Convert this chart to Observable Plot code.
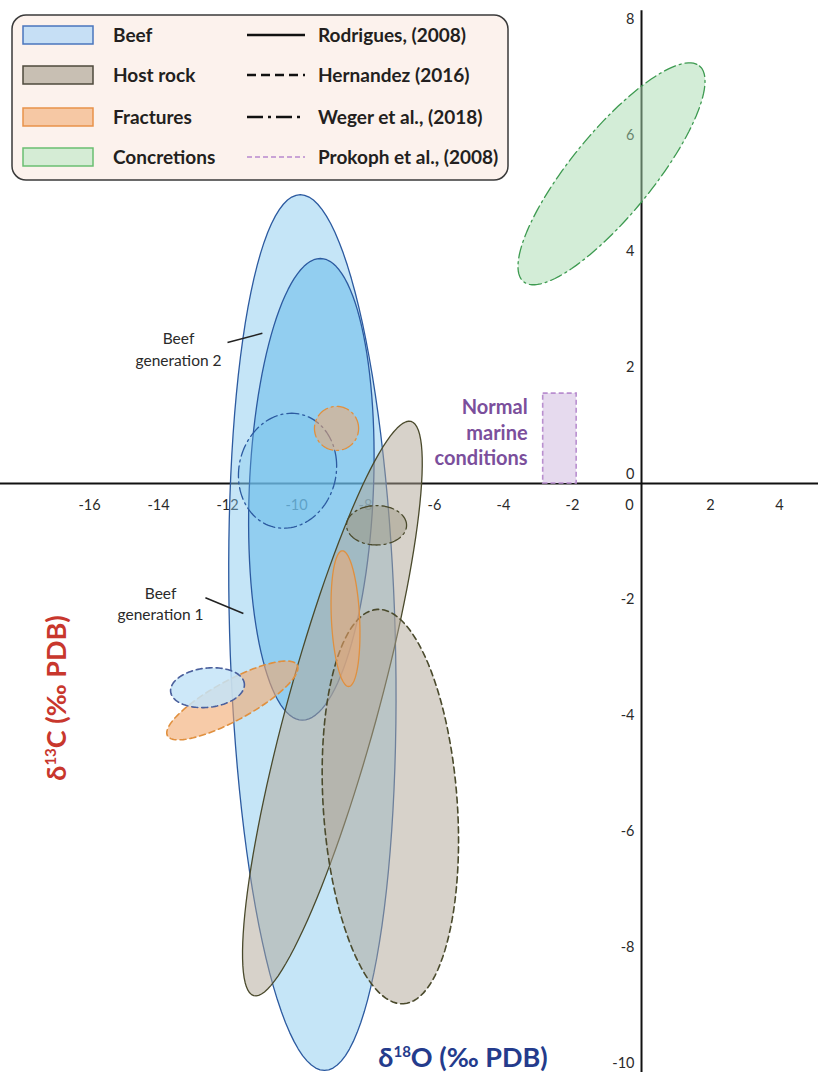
<!DOCTYPE html>
<html><head><meta charset="utf-8">
<script src="https://cdn.jsdelivr.net/npm/d3@7"></script>
<script src="https://cdn.jsdelivr.net/npm/@observablehq/plot@0.6"></script>
<style>
body{margin:0;background:#fff;}
#wrap{position:relative;width:818px;height:1072px;overflow:hidden;font-family:Lato,"Noto Sans",sans-serif;}
#wrap svg{display:block}
#legend{position:absolute;left:0;top:0;}
</style></head><body><div id="wrap"></div>
<script>
// ---- data (δ18O = x, δ13C = y, ‰ PDB) ----
const shapeNames  = ["Beef gen 1","Beef gen 2","Beef Weger","Beef Hernandez","Host rock Rodrigues","Host rock Hernandez","Host rock Weger","Fractures Rodrigues","Fractures Hernandez","Fractures Weger","Concretions Weger"];
const shapeGroup  = ["Beef","Beef","Beef","Beef","Host rock","Host rock","Host rock","Fractures","Fractures","Fractures","Concretions"];
const shapeSource = ["Rodrigues","Rodrigues","Weger","Hernandez","Rodrigues","Hernandez","Weger","Rodrigues","Hernandez","Weger","Weger"];
const centerX = [-9.54, -9.57, -10.26, -12.58, -8.96, -7.28, -7.68, -8.58, -11.86, -8.84, -0.87];
const centerY = [-2.57, -0.10,   0.22,  -3.52, -3.88, -5.57, -0.72, -2.33,  -3.74,  0.95,  5.34];
const majorDX = [-0.35,  0.26,   1.42,   1.07,  2.28,  0.38,  0.87,  0.09,   1.88,  0.64,  2.55];
const majorDY = [ 7.55,  3.98,   0.15,   0.05,  4.95, -3.40,  0.00, -1.17,   0.61,  0.00,  1.86];
const minorDX = [ 2.40,  1.80,  -0.10,   0.00,  1.26,  1.94,  0.00,  0.41,   0.28,  0.00,  0.92];
const minorDY = [ 0.00,  0.00,   0.98,   0.34, -0.21,  0.07,  0.34,  0.00,  -0.30,  0.38, -0.45];

const marineX = [-2.85, -1.88];   // Prokoph et al. (2008) normal marine δ18O range
const marineY = [0, 1.55];        // δ13C range

const xTicks = [-16,-14,-12,-10,-8,-6,-4,-2,0,2,4];
const yTicks = [8,6,4,2,0,-2,-4,-6,-8,-10];

const legendGroups  = ["Beef","Host rock","Fractures","Concretions"];
const legendSources = ["Rodrigues, (2008)","Hernandez (2016)","Weger et al., (2018)","Prokoph et al., (2008)"];

const annotations = ["Beef\ngeneration 2","Beef\ngeneration 1","Normal\nmarine\nconditions"];
const annotX = [-13.42, -13.94, -3.30];
const annotY = [2.34, -2.05, 0.90];
const pointerX1 = [-12.0, -12.64], pointerY1 = [2.43, -1.97];
const pointerX2 = [-10.99, -11.54], pointerY2 = [2.59, -2.24];

// ---- styles ----
const strokeOf = {Beef:"#2c5aa0","Host rock":"#4a4a2c",Fractures:"#e0903f",Concretions:"#3d9a50"};
const dashOf = {Rodrigues:null, Hernandez:"6,4", Weger:"12,4,2,4"};
const fillStyle = {
  "Beef gen 1":["#7fc6ee",0.45], "Beef gen 2":["#5fb8ea",0.5], "Beef Weger":["#6fc0ec",0.3],
  "Beef Hernandez":["#c4e4f8",0.85], "Host rock Rodrigues":["#b0a696",0.5], "Host rock Hernandez":["#b0a696",0.5],
  "Host rock Weger":["#9a947e",0.45], "Fractures Rodrigues":["#f2a86e",0.55], "Fractures Hernandez":["#f2a86e",0.6],
  "Fractures Weger":["#f2a86e",0.55], "Concretions Weger":["#a8dbb0",0.5]
};
const drawOrder = [0,1,4,5,7,2,9,6,8,3,10];

const angles = d3.range(0, 360, 3).map(d => d * Math.PI / 180);
function outline(i) {
  return angles.map(t => ({
    x: centerX[i] + majorDX[i] * Math.cos(t) + minorDX[i] * Math.sin(t),
    y: centerY[i] + majorDY[i] * Math.cos(t) + minorDY[i] * Math.sin(t)
  }));
}

const ellipseMarks = drawOrder.map(i => {
  const [f, fo] = fillStyle[shapeNames[i]];
  const isHern = shapeSource[i] === "Hernandez";
  let stroke = strokeOf[shapeGroup[i]];
  if (shapeNames[i] === "Beef Hernandez") stroke = "#4a5f9c";
  return Plot.line(outline(i), {
    x: "x", y: "y", curve: "linear-closed",
    fill: f, fillOpacity: fo, stroke,
    strokeWidth: isHern ? 1.6 : 1.3,
    strokeDasharray: dashOf[shapeSource[i]] || undefined
  });
});

const W = 818, H = 1072;
const chart = Plot.plot({
  width: W, height: H,
  marginTop: 0, marginRight: 0, marginBottom: 0, marginLeft: 0,
  x: {domain: [-18.58, 5.13], axis: null},
  y: {domain: [-10.155, 8.328], axis: null},
  style: {fontFamily: "Lato, 'Noto Sans', sans-serif", background: "#fff", overflow: "visible"},
  marks: [
    Plot.ruleY([0], {stroke: "#111", strokeWidth: 2}),
    Plot.ruleX([0], {y1: 8.15, y2: -10.155, stroke: "#111", strokeWidth: 2}),
    Plot.text(xTicks.filter(d => d !== 0), {x: d => d, y: 0, dy: 22, fontSize: 14.5, fill: "#2a2a2a"}),
    Plot.text([0], {x: d => d, y: 0, dy: 22, dx: -12, fontSize: 14.5, fill: "#2a2a2a"}),
    Plot.text(yTicks.filter(d => d !== 0), {x: 0, y: d => d, dx: -7, textAnchor: "end", fontSize: 14.5, fill: "#2a2a2a"}),
    Plot.text([0], {x: 0, y: d => d, dx: -7, dy: -9, textAnchor: "end", fontSize: 14.5, fill: "#2a2a2a"}),
    Plot.rect([0], {x1: marineX[0], x2: marineX[1], y1: marineY[0], y2: marineY[1], fill: "#e6daee", stroke: "#b98fcf", strokeWidth: 1.6, strokeDasharray: "5,3"}),
    ...ellipseMarks,
    Plot.link([0, 1], {x1: i => pointerX1[i], y1: i => pointerY1[i], x2: i => pointerX2[i], y2: i => pointerY2[i], stroke: "#222", strokeWidth: 1.5}),
    Plot.text([0, 1], {x: i => annotX[i], y: i => annotY[i], text: i => annotations[i], fontSize: 15.5, fill: "#2a2a2a", lineHeight: 1.4}),
    Plot.text([2], {x: i => annotX[i], y: i => annotY[i], text: i => annotations[i], fontSize: 20, fontWeight: 700, fill: "#7b4f9c", textAnchor: "end", lineHeight: 1.28})
  ]
});
document.getElementById("wrap").appendChild(chart);

// axis titles with superscripts
const svg = d3.select(chart);
const yt = svg.append("text").attr("transform", "translate(66,698) rotate(-90)")
  .attr("text-anchor", "middle").attr("font-size", 27).attr("font-weight", 700).attr("fill", "#c8372d")
  .attr("font-family", "Lato, sans-serif");
yt.append("tspan").text("δ");
yt.append("tspan").attr("font-size", 15).attr("dy", -10).text("13");
yt.append("tspan").attr("dy", 10).text("C (‰ PDB)");
const xt = svg.append("text").attr("transform", "translate(463,1067)")
  .attr("text-anchor", "middle").attr("font-size", 27).attr("font-weight", 700).attr("fill", "#243b8c")
  .attr("font-family", "Lato, sans-serif");
xt.append("tspan").text("δ");
xt.append("tspan").attr("font-size", 15).attr("dy", -10).text("18");
xt.append("tspan").attr("dy", 10).text("O (‰ PDB)");

// legend box (overlaid on the plot area)
const swFill = {Beef:"#c6dff5","Host rock":"#c8bfb3",Fractures:"#f6c8a4",Concretions:"#d5ecd5"};
const swStroke = {Beef:"#4a76bd","Host rock":"#4e4a3c",Fractures:"#e8924a",Concretions:"#6abf71"};
const lineStyles = [["#111",null],["#111","9,5"],["#111","16,5,3,5"],["#c9a3d6","5,3"]];
const lg = d3.select("#wrap").append("svg").attr("id", "legend").attr("width", 520).attr("height", 190)
  .style("font-family", "Lato, 'Noto Sans', sans-serif");
lg.append("rect").attr("x", 12).attr("y", 15).attr("width", 496).attr("height", 165).attr("rx", 14)
  .attr("fill", "#fcf2ed").attr("stroke", "#3a3a3a").attr("stroke-width", 1.5);
const rowY = [35, 75, 117, 157];
legendGroups.forEach((g, k) => {
  lg.append("rect").attr("x", 23).attr("y", rowY[k] - 9).attr("width", 70).attr("height", 18)
    .attr("fill", swFill[g]).attr("stroke", swStroke[g]).attr("stroke-width", 1.5);
  lg.append("text").attr("x", 113).attr("y", rowY[k]).attr("dy", "0.35em").attr("font-size", 19)
    .attr("font-weight", 700).attr("fill", "#231f20").text(g);
});
legendSources.forEach((s, k) => {
  const [c, dash] = lineStyles[k];
  const l = lg.append("line").attr("x1", 247).attr("x2", 305).attr("y1", rowY[k]).attr("y2", rowY[k])
    .attr("stroke", c).attr("stroke-width", k === 3 ? 2 : 2.5);
  if (dash) l.attr("stroke-dasharray", dash);
  lg.append("text").attr("x", 318).attr("y", rowY[k]).attr("dy", "0.35em").attr("font-size", 19)
    .attr("font-weight", 700).attr("fill", "#231f20").text(s);
});
</script></body></html>
